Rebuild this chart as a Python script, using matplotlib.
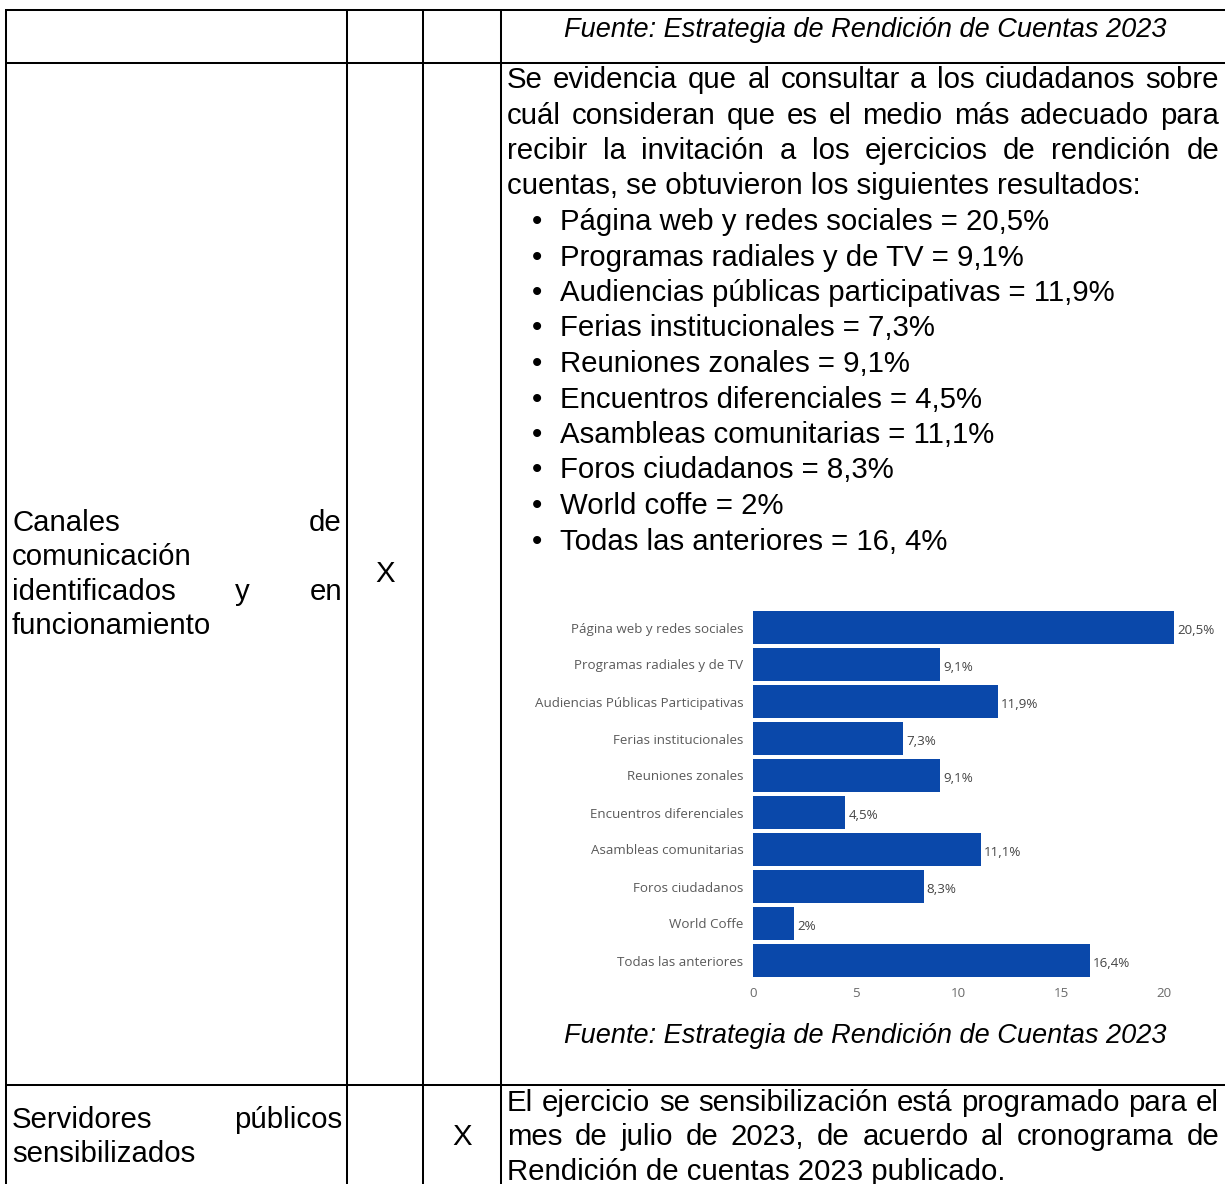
import matplotlib
matplotlib.use('Agg')
import matplotlib.pyplot as plt

W, H = 1225, 1184

# datos de la grafica
categorias = ['Página web y redes sociales', 'Programas radiales y de TV',
              'Audiencias Públicas Participativas', 'Ferias institucionales',
              'Reuniones zonales', 'Encuentros diferenciales',
              'Asambleas comunitarias', 'Foros ciudadanos', 'World Coffe',
              'Todas las anteriores']
valores = [20.5, 9.1, 11.9, 7.3, 9.1, 4.5, 11.1, 8.3, 2, 16.4]
etiquetas = ['20,5%', '9,1%', '11,9%', '7,3%', '9,1%', '4,5%', '11,1%', '8,3%', '2%', '16,4%']
ticks_x = [0, 5, 10, 15, 20]

# textos de la tabla
fuente = 'Fuente: Estrategia de Rendición de Cuentas 2023'
parrafo = ['Se evidencia que al consultar a los ciudadanos sobre',
           'cuál consideran que es el medio más adecuado para',
           'recibir la invitación a los ejercicios de rendición de',
           'cuentas, se obtuvieron los siguientes resultados:']
vinetas = ['Página web y redes sociales = 20,5%',
           'Programas radiales y de TV = 9,1%',
           'Audiencias públicas participativas = 11,9%',
           'Ferias institucionales = 7,3%',
           'Reuniones zonales = 9,1%',
           'Encuentros diferenciales = 4,5%',
           'Asambleas comunitarias = 11,1%',
           'Foros ciudadanos = 8,3%',
           'World coffe = 2%',
           'Todas las anteriores = 16, 4%']
indicador_1 = ['Canales de', 'comunicación', 'identificados y en', 'funcionamiento']
indicador_2 = ['Servidores públicos', 'sensibilizados']
texto_2 = ['El ejercicio se sensibilización está programado para el',
           'mes de julio de 2023, de acuerdo al cronograma de',
           'Rendición de cuentas 2023 publicado.']

plt.rcParams['font.family'] = ['Liberation Sans', 'DejaVu Sans']

fig = plt.figure(figsize=(W / 100, H / 100), dpi=100)
ax = fig.add_axes([0, 0, 1, 1])
ax.set_xlim(0, W)
ax.set_ylim(H, 0)
ax.axis('off')
r = fig.canvas.get_renderer()

TAM = 21.2      # cuerpo 11 pt
TAM_F = 19.5    # fuente 10 pt
PASO = 35.5


def parrafo_justificado(lineas, x0, x1, y0, paso, size):
    for i, linea in enumerate(lineas):
        y = y0 + i * paso
        palabras = linea.split(' ')
        if i == len(lineas) - 1 or len(palabras) == 1:
            ax.text(x0, y, linea, fontsize=size, va='center', ha='left')
            continue
        objs = [ax.text(0, y, p, fontsize=size, va='center', ha='left') for p in palabras]
        anchos = [o.get_window_extent(r).width for o in objs]
        hueco = (x1 - x0 - sum(anchos)) / (len(palabras) - 1)
        x = x0
        for o, a in zip(objs, anchos):
            o.set_x(x)
            x += a + hueco


# lineas de la tabla
lw = 1.45
for xv in [6, 347, 423, 501]:
    ax.plot([xv, xv], [10, H + 5], color='black', lw=lw, solid_capstyle='butt')
for yh in [10, 63, 1085]:
    ax.plot([5, W + 5], [yh, yh], color='black', lw=lw, solid_capstyle='butt')

# fila 1
ax.text(865, 30, fuente, fontsize=TAM_F, style='italic', ha='center', va='center')

# fila 2
parrafo_justificado(parrafo, 507, 1219, 80, PASO, TAM)
for i, v in enumerate(vinetas):
    y = 80 + (len(parrafo) + i) * PASO
    ax.text(537, y, '•', fontsize=TAM, ha='center', va='center')
    ax.text(560, y, v, fontsize=TAM, ha='left', va='center')

parrafo_justificado(indicador_1, 12, 342, 523, 34.3, TAM)
ax.text(385, 574, 'X', fontsize=TAM, ha='center', va='center')
ax.text(865, 1036, fuente, fontsize=TAM_F, style='italic', ha='center', va='center')

# fila 3
parrafo_justificado(texto_2, 507, 1219, 1103, 34.3, TAM)
parrafo_justificado(indicador_2, 12, 342, 1120, 34.3, TAM)
ax.text(462, 1137, 'X', fontsize=TAM, ha='center', va='center')

# grafica de barras
fam = ['Open Sans', 'DejaVu Sans']
prueba = ax.text(0, 0, 'Audiencias Públicas Participativas', fontsize=10, family=fam)
tam_g = 10 * 211 / prueba.get_window_extent(r).width
prueba.remove()

axg = fig.add_axes([753 / W, 1 - 979 / H, 411 / W, 370 / H])
pos = list(range(len(categorias)))
axg.barh(pos, valores, height=0.89, color='#0a48aa', clip_on=False)
axg.set_xlim(0, 20)
axg.set_ylim(len(categorias) - 0.5, -0.5)
axg.set_yticks(pos)
axg.set_yticklabels(categorias, fontsize=tam_g, color='#5a5a5a', family=fam)
axg.set_xticks(ticks_x)
axg.set_xticklabels([str(t) for t in ticks_x], fontsize=tam_g, color='#6a6a6a', family=fam)
axg.tick_params(axis='both', length=0)
axg.tick_params(axis='y', pad=7)
axg.tick_params(axis='x', pad=6)
for s in axg.spines.values():
    s.set_visible(False)
axg.patch.set_alpha(0)
for p, v, e in zip(pos, valores, etiquetas):
    axg.text(v + 0.15, p + 0.08, e, fontsize=tam_g, color='#444444', family=fam,
             ha='left', va='center', clip_on=False)

fig.savefig('out.png', dpi=100, facecolor='white')
